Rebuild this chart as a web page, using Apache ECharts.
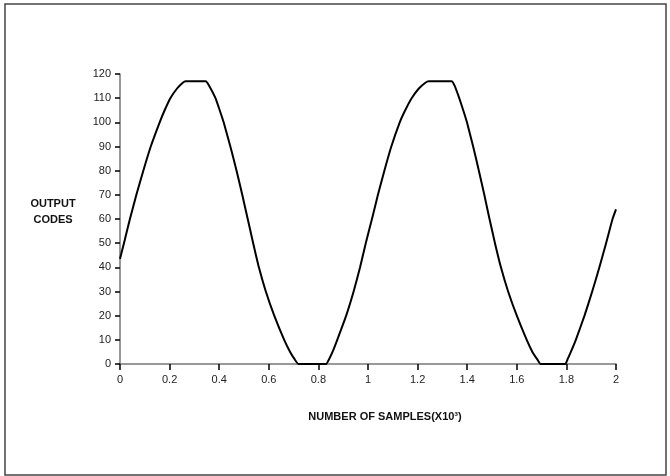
<!DOCTYPE html>
<html>
<head>
<meta charset="utf-8">
<script src="https://cdn.jsdelivr.net/npm/echarts@6/dist/echarts.min.js"></script>
<style>
  html, body { margin: 0; padding: 0; background: #fff; }
</style>
</head>
<body>
<div id="chart" style="width: 670px;height: 476px;"></div>
<script>
// samples (x10^3) and output codes
var samples = [
  0.000, 0.016, 0.040, 0.066, 0.094, 0.124, 0.160, 0.180, 0.203, 0.230, 0.252, 0.265,
  0.346, 0.360, 0.385, 0.402, 0.418, 0.445, 0.470, 0.493, 0.515, 0.537, 0.560, 0.588,
  0.622, 0.662, 0.686, 0.704, 0.720,
  0.831, 0.843, 0.857, 0.876, 0.912, 0.942, 0.968, 0.991, 1.016, 1.040, 1.066, 1.094,
  1.128, 1.150, 1.176, 1.205, 1.230, 1.245,
  1.337, 1.350, 1.368, 1.384, 1.399, 1.424, 1.447, 1.469, 1.490, 1.512, 1.536, 1.565,
  1.600, 1.640, 1.663, 1.682, 1.696,
  1.795, 1.805, 1.818, 1.838, 1.873, 1.904, 1.933, 1.960, 1.986, 2.000
]
var codes = [
  43.5, 50, 60, 70, 80, 90, 100, 105, 110, 114, 116.3, 117,
  117, 115, 110, 105, 100, 90, 80, 70, 60, 50, 40, 30,
  20, 10, 5, 2, 0,
  0, 2, 5, 10, 20, 30, 40, 50, 60, 70, 80, 90,
  100, 105, 110, 114, 116.3, 117,
  117, 115, 110, 105, 100, 90, 80, 70, 60, 50, 40, 30,
  20, 10, 5, 2, 0,
  0, 2, 5, 10, 20, 30, 40, 50, 60, 64
]
var xTicks = ['0', '0.2', '0.4', '0.6', '0.8', '1', '1.2', '1.4', '1.6', '1.8', '2']

var points = samples.map(function(s, i) { return [s, codes[i]] })

var chart = echarts.init(document.getElementById('chart'))
var font = 'Liberation Sans, Arial, sans-serif'
chart.setOption({
  animation: false,
  backgroundColor: '#fff',
  grid: {
    left: 120,
    right: 54,
    top: 74,
    bottom: 112
  },
  graphic: [
    {
      type: 'rect',
      shape: { x: 5, y: 4, width: 661, height: 471 },
      style: { fill: 'none', stroke: '#444', lineWidth: 1.5 }
    },
    {
      type: 'text',
      x: 53,
      y: 196,
      style: {
        text: 'OUTPUT\nCODES',
        align: 'center',
        font: 'bold 11px ' + font,
        fill: '#111',
        lineHeight: 16
      }
    },
    {
      type: 'text',
      x: 385,
      y: 411,
      style: {
        text: 'NUMBER OF SAMPLES(X10³)',
        align: 'center',
        font: 'bold 11px ' + font,
        fill: '#111'
      }
    }
  ],
  xAxis: {
    type: 'value',
    min: 0,
    max: 2,
    interval: 0.2,
    axisLine: { lineStyle: { color: '#777', width: 1.5 } },
    axisTick: { length: 6, lineStyle: { color: '#000', width: 1.5 } },
    axisLabel: {
      margin: 10,
      fontFamily: font,
      fontSize: 11,
      color: '#222',
      formatter: function(v) {
        var idx = Math.round(v / 0.2)
        return xTicks[idx]
      }
    },
    splitLine: { show: false }
  },
  yAxis: {
    type: 'value',
    min: 0,
    max: 120,
    interval: 10,
    axisLine: { show: true, lineStyle: { color: '#777', width: 1.5 } },
    axisTick: { show: true, length: 5, lineStyle: { color: '#000', width: 1.5 } },
    axisLabel: {
      margin: 9,
      fontFamily: font,
      fontSize: 11,
      color: '#222'
    },
    splitLine: { show: false }
  },
  series: [{
    type: 'line',
    data: points,
    showSymbol: false,
    smooth: 0.15,
    lineStyle: { color: '#000', width: 2, join: 'round' }
  }]
})
</script>
</body>
</html>
